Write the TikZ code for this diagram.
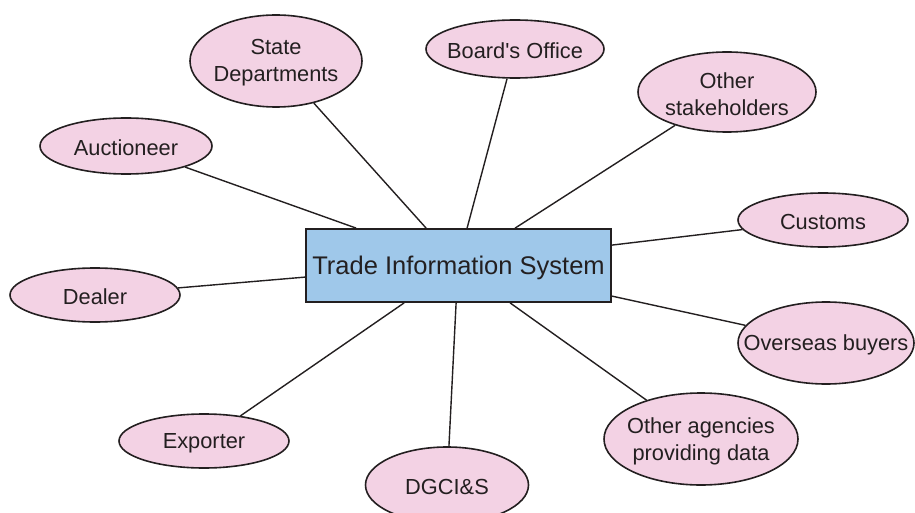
\documentclass[tikz,border=0pt]{standalone}
\usepackage{fontspec}
\setmainfont{Liberation Sans}[Ligatures=TeXOff]
\usetikzlibrary{shapes.geometric,calc}
\definecolor{pinkfill}{RGB}{243,210,228}
\definecolor{bluefill}{RGB}{159,200,234}
\definecolor{ink}{RGB}{35,31,32}
\begin{document}
\begin{tikzpicture}[x=1pt,y=-1pt,
  bubble/.style={ellipse,draw=ink,fill=pinkfill,line width=1.6pt,inner sep=0pt},
  btext/.style={align=center,font=\fontsize{21.8}{27}\selectfont,text=ink,inner sep=0pt,yshift=-2pt},
  hub/.style={rectangle,draw=ink,fill=bluefill,line width=1.8pt,inner sep=0pt,
    minimum width=305pt,minimum height=73pt,font=\fontsize{25.5}{30}\selectfont,text=ink},
  link/.style={draw=ink,line width=1.4pt}]
\useasboundingbox (0,0) rectangle (915,513);
\node[hub] (box) at (458.5,265.5) {\raisebox{-2.5pt}[\height][\depth]{Trade Information System}};
\coordinate (bstate) at ($(box.north west)+(121,0)$);
\coordinate (bboard) at ($(box.north west)+(162,0)$);
\coordinate (bother) at ($(box.north west)+(210,0)$);
\coordinate (bauct) at ($(box.north west)+(51,0)$);
\coordinate (bcustoms) at ($(box.north east)+(0,17)$);
\coordinate (boverseas) at ($(box.north east)+(0,68)$);
\coordinate (bdealer) at ($(box.north west)+(0,49)$);
\coordinate (bagencies) at ($(box.south west)+(205,0)$);
\coordinate (bexporter) at ($(box.south west)+(99,0)$);
\coordinate (bdgcis) at ($(box.south west)+(151,0)$);
\node[bubble,minimum width=172pt,minimum height=92pt,label={[btext]center:State\\Departments}] (state) at (276,61) {};
\node[bubble,minimum width=178pt,minimum height=58pt,label={[btext]center:Board's Office}] (board) at (515,49) {};
\node[bubble,minimum width=178pt,minimum height=80pt,label={[btext]center:Other\\stakeholders}] (other) at (727,92) {};
\node[bubble,minimum width=172pt,minimum height=56pt,label={[btext]center:Auctioneer}] (auct) at (126,146) {};
\node[bubble,minimum width=170pt,minimum height=54pt,label={[btext]center:Customs}] (customs) at (823,220) {};
\node[bubble,minimum width=170pt,minimum height=54pt,label={[btext]center:Dealer}] (dealer) at (95,295) {};
\node[bubble,minimum width=176pt,minimum height=82pt,label={[btext]center:Overseas buyers}] (overseas) at (826,343) {};
\node[bubble,minimum width=194pt,minimum height=92pt,label={[btext]center:Other agencies\\providing data}] (agencies) at (701,439) {};
\node[bubble,minimum width=170pt,minimum height=54pt,label={[btext]center:Exporter}] (exporter) at (204,441) {};
\node[bubble,minimum width=163pt,minimum height=76pt,label={[btext]center:DGCI\&S}] (dgcis) at (447,485) {};
\draw[link] (state) -- (bstate);
\draw[link] (board) -- (bboard);
\draw[link] (other) -- (bother);
\draw[link] (auct) -- (bauct);
\draw[link] (customs) -- (bcustoms);
\draw[link] (dealer) -- (bdealer);
\draw[link] (overseas) -- (boverseas);
\draw[link] (agencies) -- (bagencies);
\draw[link] (exporter) -- (bexporter);
\draw[link] (dgcis) -- (bdgcis);
\end{tikzpicture}
\end{document}
